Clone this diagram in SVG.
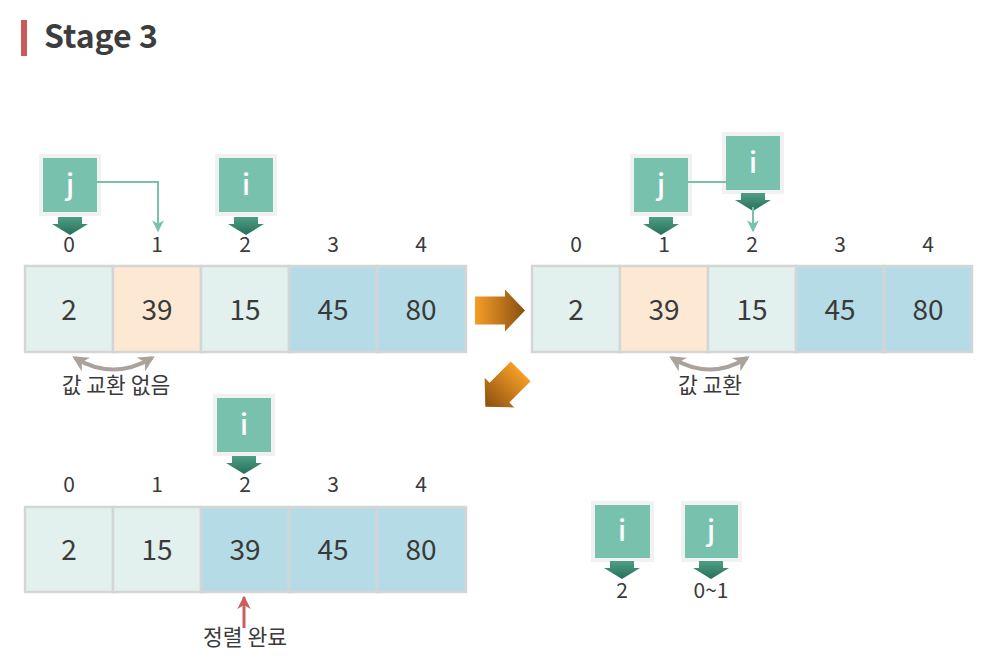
<svg xmlns="http://www.w3.org/2000/svg" width="984" height="668" viewBox="0 0 984 668">
<defs>
<linearGradient id="gPtr" x1="0" y1="0" x2="0" y2="1">
<stop offset="0" stop-color="#4e9e85"/><stop offset="1" stop-color="#28705a"/>
</linearGradient>
<linearGradient id="gOr" x1="0" y1="0" x2="1" y2="0">
<stop offset="0" stop-color="#f59e25"/><stop offset="1" stop-color="#8a4e12"/>
</linearGradient>
<marker id="mGreen" viewBox="0 0 10 10" refX="9" refY="5" markerWidth="6" markerHeight="6" orient="auto" markerUnits="strokeWidth">
<path d="M0,0 L10,5 L0,10 L3,5 Z" fill="#78c2ad"/>
</marker>
<marker id="mGray" viewBox="0 0 10 10" refX="8" refY="5" markerWidth="4" markerHeight="4" orient="auto-start-reverse" markerUnits="strokeWidth">
<path d="M0,0 L10,5 L0,10 L3,5 Z" fill="#aaa29b"/>
</marker>
<marker id="mRed" viewBox="0 0 10 10" refX="9" refY="5" markerWidth="4.5" markerHeight="4.5" orient="auto" markerUnits="strokeWidth">
<path d="M0,0 L10,5 L0,10 L3,5 Z" fill="#c9605e"/>
</marker>
<path id="ptr" d="M-12,0 H12 V7 H18 L0,18 L-18,7 H-12 Z" fill="url(#gPtr)"/>
<path id="orArrow" d="M-25,-14 H5 V-21 L25,0 L5,21 V14 H-25 Z" fill="url(#gOr)"/>
</defs>
<style>
.t{font-family:"Noto Sans CJK KR","Noto Sans",sans-serif;fill:#3a3a3a;text-anchor:middle}
.num{font-size:28px}
.idx{font-size:21px}
.lbl{font-size:21.5px}
.letter{font-family:"Noto Sans CJK KR","Noto Sans",sans-serif;font-size:28px;font-weight:500;fill:#ffffff;text-anchor:middle}
.shadow{fill:#f1f1f1}
.box{fill:#78c2ad}
.cell{stroke:#d5d5d5;stroke-width:2.5}
.mint{fill:#e2f1ee}
.peach{fill:#fde9d3}
.blue{fill:#b5dce6}
.conn{fill:none;stroke:#78c2ad;stroke-width:2}
.swap{fill:none;stroke:#aaa29b;stroke-width:4}
</style>
<rect width="984" height="668" fill="#ffffff"/>

<g id="title">
<rect x="21" y="20" width="6" height="36" fill="#c85a5a"/>
<text x="44" y="48" font-family="'Noto Sans CJK KR','Noto Sans',sans-serif" font-weight="bold" font-size="32" fill="#3d3d3d">Stage 3</text>
</g>

<g id="array-top-left">
<rect class="cell mint" x="25" y="266" width="88" height="86"/>
<rect class="cell peach" x="113" y="266" width="88" height="86"/>
<rect class="cell mint" x="201" y="266" width="88" height="86"/>
<rect class="cell blue" x="289" y="266" width="88" height="86"/>
<rect class="cell blue" x="377" y="266" width="89" height="86"/>
<text class="t num" x="69" y="320">2</text>
<text class="t num" x="157" y="320">39</text>
<text class="t num" x="245" y="320">15</text>
<text class="t num" x="333" y="320">45</text>
<text class="t num" x="421" y="320">80</text>
<text class="t idx" x="69" y="252">0</text>
<text class="t idx" x="157" y="252">1</text>
<text class="t idx" x="245" y="252">2</text>
<text class="t idx" x="333" y="252">3</text>
<text class="t idx" x="421" y="252">4</text>
</g>

<g id="array-top-right">
<rect class="cell mint" x="532" y="266" width="88" height="86"/>
<rect class="cell peach" x="620" y="266" width="88" height="86"/>
<rect class="cell mint" x="708" y="266" width="88" height="86"/>
<rect class="cell blue" x="796" y="266" width="88" height="86"/>
<rect class="cell blue" x="884" y="266" width="88" height="86"/>
<text class="t num" x="576" y="320">2</text>
<text class="t num" x="664" y="320">39</text>
<text class="t num" x="752" y="320">15</text>
<text class="t num" x="840" y="320">45</text>
<text class="t num" x="928" y="320">80</text>
<text class="t idx" x="576" y="252">0</text>
<text class="t idx" x="664" y="252">1</text>
<text class="t idx" x="752" y="252">2</text>
<text class="t idx" x="840" y="252">3</text>
<text class="t idx" x="928" y="252">4</text>
</g>

<g id="array-bottom">
<rect class="cell mint" x="25" y="507" width="88" height="85"/>
<rect class="cell mint" x="113" y="507" width="88" height="85"/>
<rect class="cell blue" x="201" y="507" width="88" height="85"/>
<rect class="cell blue" x="289" y="507" width="88" height="85"/>
<rect class="cell blue" x="377" y="507" width="89" height="85"/>
<text class="t num" x="69" y="560">2</text>
<text class="t num" x="157" y="560">15</text>
<text class="t num" x="245" y="560">39</text>
<text class="t num" x="333" y="560">45</text>
<text class="t num" x="421" y="560">80</text>
<text class="t idx" x="69" y="492">0</text>
<text class="t idx" x="157" y="492">1</text>
<text class="t idx" x="245" y="492">2</text>
<text class="t idx" x="333" y="492">3</text>
<text class="t idx" x="421" y="492">4</text>
</g>

<g id="node-j-tl">
<rect class="shadow" x="39" y="154" width="62" height="62"/>
<rect class="box" x="43" y="158" width="54" height="54"/>
<text class="letter" x="70" y="195">j</text>
<use href="#ptr" x="70" y="217"/>
</g>
<g id="node-i-tl">
<rect class="shadow" x="215" y="154" width="62" height="62"/>
<rect class="box" x="219" y="158" width="54" height="54"/>
<text class="letter" x="246" y="195">i</text>
<use href="#ptr" x="246" y="217"/>
</g>
<g id="node-j-tr">
<rect class="shadow" x="630" y="154" width="62" height="62"/>
<rect class="box" x="634" y="158" width="54" height="54"/>
<text class="letter" x="661" y="195">j</text>
<use href="#ptr" x="661" y="217"/>
</g>
<g id="node-i-tr">
<rect class="shadow" x="722" y="132" width="62" height="62"/>
<rect class="box" x="726" y="136" width="54" height="54"/>
<text class="letter" x="753" y="173">i</text>
<use href="#ptr" x="753" y="193"/>
</g>
<g id="node-i-bottom">
<rect class="shadow" x="213" y="394" width="62" height="62"/>
<rect class="box" x="217" y="398" width="54" height="54"/>
<text class="letter" x="244" y="435">i</text>
<use href="#ptr" x="244" y="456"/>
</g>
<g id="legend-i">
<rect class="shadow" x="591" y="501" width="63" height="61"/>
<rect class="box" x="595" y="505" width="55" height="53"/>
<text class="letter" x="622" y="541">i</text>
<use href="#ptr" x="622" y="561"/>
<text class="t idx" x="622" y="598">2</text>
</g>
<g id="legend-j">
<rect class="shadow" x="681" y="501" width="61" height="61"/>
<rect class="box" x="685" y="505" width="53" height="53"/>
<text class="letter" x="711" y="541">j</text>
<use href="#ptr" x="711" y="561"/>
<text class="t idx" x="711" y="598">0~1</text>
</g>

<g id="connectors">
<path class="conn" d="M97,182 H158 V231" marker-end="url(#mGreen)"/>
<path class="conn" d="M688,182 H726"/>
<path class="conn" d="M753,207 V231" marker-end="url(#mGreen)"/>
<path class="swap" d="M75,358 Q113,381 152,358" marker-start="url(#mGray)" marker-end="url(#mGray)"/>
<path class="swap" d="M672,358 Q710,381 747,358" marker-start="url(#mGray)" marker-end="url(#mGray)"/>
<path d="M244,628 V597" fill="none" stroke="#c9605e" stroke-width="3" marker-end="url(#mRed)"/>
<use href="#orArrow" transform="translate(500,310.5)"/>
<use href="#orArrow" transform="translate(503,389) rotate(135)"/>
</g>

<g id="labels">
<text class="t lbl" x="116" y="393">값 교환 없음</text>
<text class="t lbl" x="710" y="393">값 교환</text>
<text class="t lbl" x="245" y="645">정렬 완료</text>
</g>
</svg>
